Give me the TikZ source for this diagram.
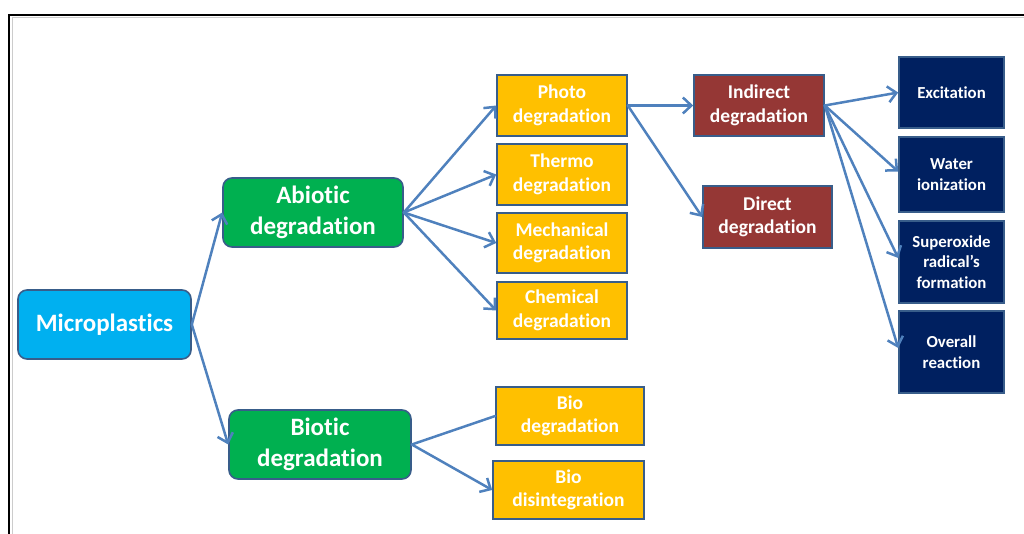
\documentclass[tikz,border=0pt]{standalone}
\usepackage{fontspec}
\setmainfont{Carlito}[Ligatures=NoCommon]
\usetikzlibrary{arrows.meta}
\definecolor{mpblue}{HTML}{00B0F0}
\definecolor{mpgreen}{HTML}{00B050}
\definecolor{mpyellow}{HTML}{FFC000}
\definecolor{mpred}{HTML}{953735}
\definecolor{mpnavy}{HTML}{002060}
\definecolor{mpoutline}{HTML}{385D8A}
\definecolor{mparrow}{HTML}{4F81BD}
\tikzset{
  box/.style={draw=mpoutline, line width=1.6pt, text=white, font=\bfseries, align=center, inner sep=0pt},
  bigbox/.style={box, rounded corners=9pt, font=\bfseries\fontsize{25}{31}\selectfont},
  midbox/.style={box, fill=mpyellow, font=\bfseries\fontsize{19.5}{23.5}\selectfont},
  redbox/.style={midbox, fill=mpred},
  navybox/.style={box, fill=mpnavy, font=\bfseries\fontsize{16.8}{20.5}\selectfont},
  conn/.style={draw=mparrow, line width=2.5pt, line cap=round},
  arr/.style={conn, -{Straight Barb[length=8.5pt,width=16pt,line width=2.5pt]}}
}
\begin{document}
\begin{tikzpicture}[x=1pt,y=-1pt]
\useasboundingbox (0,0) rectangle (1024,534);
% frame
\draw[gray!40, line width=1pt] (12,534) -- (12,18) -- (1024,18);
\draw[black, line width=2.5pt] (9,534) -- (9,15) -- (1024,15);
% nodes
\node[bigbox, fill=mpblue, minimum width=173pt, minimum height=69pt] (mp) at (104.5,324.5) {Microplastics};
\node[bigbox, fill=mpgreen, minimum width=180pt, minimum height=69pt] (ab) at (313,212.5) {Abiotic\\degradation};
\node[bigbox, fill=mpgreen, minimum width=182pt, minimum height=69pt] (bi) at (320,444.5) {Biotic\\degradation};
\node[midbox, minimum width=130pt, minimum height=61pt] (ph) at (562,105.5) {Photo\\degradation};
\node[midbox, minimum width=130pt, minimum height=61pt] (th) at (562,174.5) {Thermo\\degradation};
\node[midbox, minimum width=130pt, minimum height=60pt] (me) at (562,243) {Mechanical\\degradation};
\node[midbox, minimum width=130pt, minimum height=57pt] (ch) at (562,310.5) {Chemical\\degradation};
\node[redbox, minimum width=130pt, minimum height=61pt] (in) at (759,105.5) {Indirect\\degradation};
\node[redbox, minimum width=129pt, minimum height=62pt] (di) at (767.5,217) {Direct\\degradation};
\node[navybox, minimum width=105pt, minimum height=71pt] (ex) at (951.5,92.5) {Excitation};
\node[navybox, minimum width=105pt, minimum height=75pt] (wa) at (951.5,174.5) {Water\\ionization};
\node[navybox, minimum width=105pt, minimum height=82pt] (su) at (951.5,262) {Superoxide\\radical’s\\formation};
\node[navybox, minimum width=105pt, minimum height=82pt] (ov) at (951.5,352) {Overall\\reaction};
\node[midbox, minimum width=148pt, minimum height=58pt] (bd) at (570,416) {Bio\\degradation};
\node[midbox, minimum width=151pt, minimum height=58pt] (bs) at (568.5,490) {Bio\\disintegration};
% connectors
\draw[arr] (mp.east) -- (ab.west);
\draw[arr] (mp.east) -- (bi.west);
\draw[arr] (ab.east) -- (ph.west);
\draw[arr] (ab.east) -- (th.west);
\draw[arr] (ab.east) -- (me.west);
\draw[arr] (ab.east) -- (ch.west);
\draw[conn] (bi.east) -- (bd.west);
\draw[arr] (bi.east) -- (bs.west);
\draw[arr] (ph.east) -- (in.west);
\draw[arr] (ph.east) -- (di.west);
\draw[arr] (in.east) -- (ex.west);
\draw[arr] (in.east) -- ([yshift=3pt]wa.west);
\draw[arr] (in.east) -- ([yshift=4pt]su.west);
\draw[arr] (in.east) -- ([yshift=4pt]ov.west);
\end{tikzpicture}
\end{document}
